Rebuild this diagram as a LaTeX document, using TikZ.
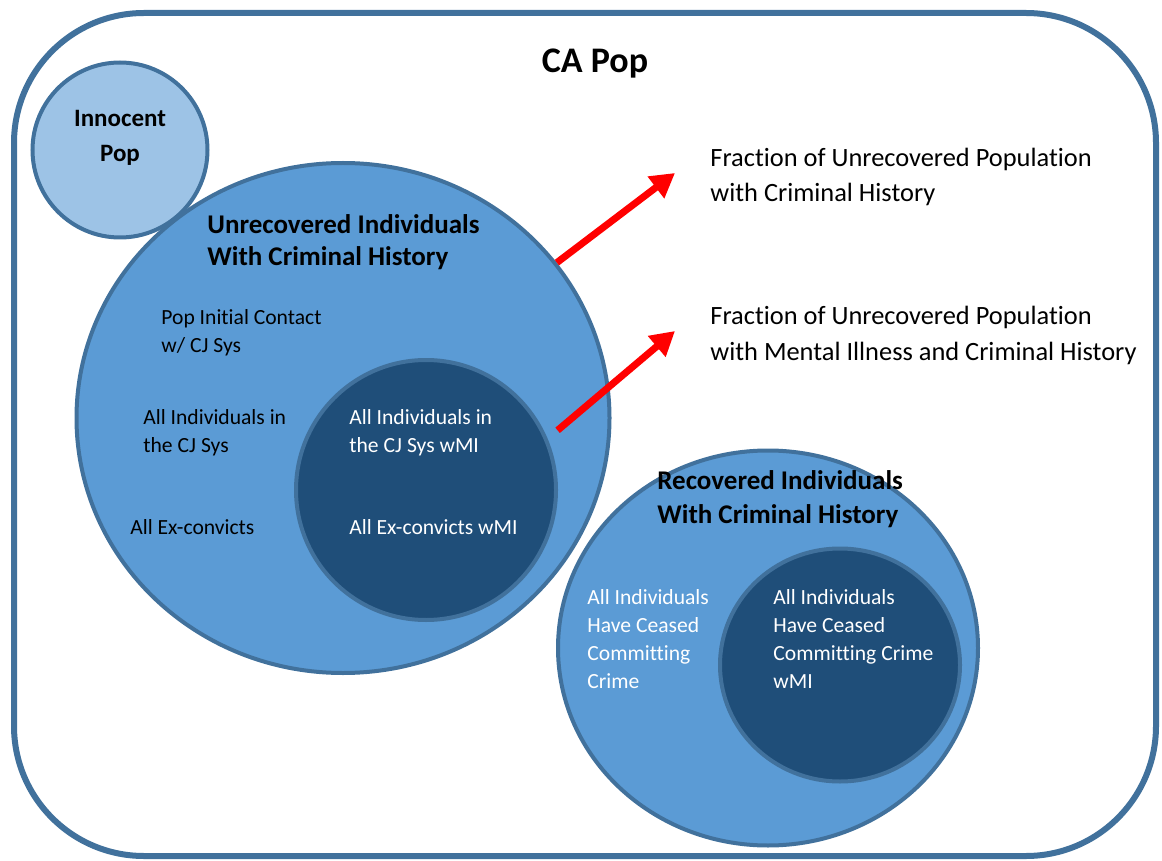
\documentclass[tikz,border=0pt]{standalone}
\usepackage{fontspec}
\setmainfont{Carlito}[Ligatures=NoCommon]
\usetikzlibrary{shapes.geometric,arrows.meta}

\begin{document}
\begin{tikzpicture}[x=0.5pt,y=-0.5pt,
    popring/.style={draw=kEdge,line width=2pt,inner sep=0pt},
    lbl/.style={anchor=base west,align=left,inner sep=0pt,font=\fontsize{10.8}{14}\selectfont},
    wlbl/.style={lbl,text=white},
    head/.style={anchor=base west,align=left,inner sep=0pt,font=\bfseries\fontsize{13.5}{17}\selectfont},
    frac/.style={anchor=base west,align=left,inner sep=0pt,font=\fontsize{13.2}{17.5}\selectfont},
    fracarrow/.style={draw=red,line width=3.5pt,-{Triangle[width=13pt,length=12pt]}}]
  \definecolor{kEdge}{HTML}{41719C}
  \definecolor{kPale}{HTML}{9DC3E6}
  \definecolor{kMid}{HTML}{5B9BD5}
  \definecolor{kDark}{HTML}{1F4E79}

  \useasboundingbox (0,0) rectangle (1162,861);

  % outer frame
  \draw[kEdge,line width=3pt,rounded corners=65pt] (14,13) rectangle (1156,856);
  \node[anchor=base,inner sep=0pt,font=\bfseries\fontsize{18}{22}\selectfont] (capop) at (595,73) {CA Pop};

  % population circles
  \node[popring,ellipse,fill=kMid,minimum width=210pt,minimum height=197.5pt] (recov) at (768,648) {};
  \node[popring,ellipse,fill=kDark,minimum width=120pt,minimum height=116.5pt] (recovmi) at (840,665) {};
  \node[popring,circle,fill=kPale,minimum size=87.5pt] (innocent) at (120,150) {};
  \node[popring,ellipse,fill=kMid,minimum width=266.5pt,minimum height=255pt] (unrec) at (343,418) {};
  \node[popring,circle,fill=kDark,minimum size=130pt] (unrecmi) at (426,490) {};

  % multi-line labels sit on the baseline of their last line
  \node[anchor=base,align=center,inner sep=0pt,font=\bfseries\fontsize{12.5}{17.5}\selectfont] (innocenttxt) at (120,162) {Innocent\\Pop};

  % unrecovered side
  \node[head,font=\bfseries\fontsize{13.5}{16}\selectfont] (unrectxt) at (207,266) {Unrecovered Individuals\\With Criminal History};
  \node[lbl] (contact) at (161,352) {Pop Initial Contact\\w/ CJ Sys};
  \node[lbl] (incj) at (143,452) {All Individuals in\\the CJ Sys};
  \node[lbl] (excon) at (130,534) {All Ex-convicts};
  \node[wlbl] (incjmi) at (349,452) {All Individuals in\\the CJ Sys wMI};
  \node[wlbl] (exconmi) at (349,534) {All Ex-convicts wMI};

  % recovered side
  \node[head] (recovtxt) at (657,523) {Recovered Individuals\\With Criminal History};
  \node[wlbl] (ceased) at (587,688) {All Individuals\\Have Ceased\\Committing\\Crime};
  \node[wlbl] (ceasedmi) at (773,688) {All Individuals\\Have Ceased\\Committing Crime\\wMI};

  % fractions
  \node[frac] (frac1) at (710,202) {Fraction of Unrecovered Population\\with Criminal History};
  \node[frac] (frac2) at (710,360) {Fraction of Unrecovered Population\\with Mental Illness and Criminal History};
  \coordinate (tip1) at (675,173);
  \coordinate (tip2) at (675,331);
  \draw[fracarrow] (unrec.36) -- (tip1);
  \draw[fracarrow] ([shift={(5.5pt,3pt)}]unrecmi.24) -- (tip2);
\end{tikzpicture}
\end{document}
